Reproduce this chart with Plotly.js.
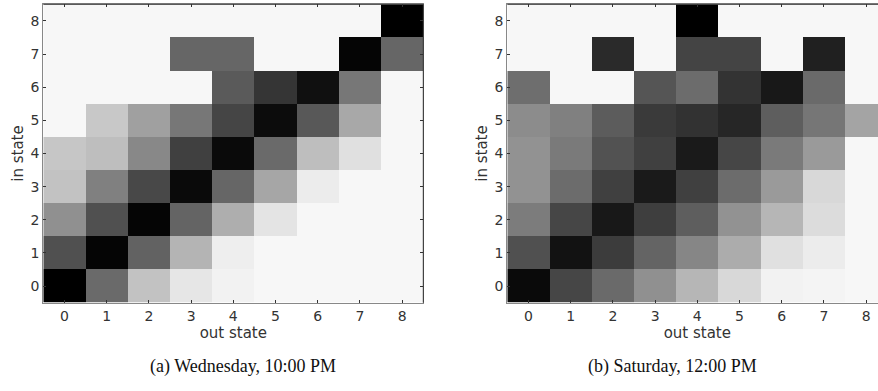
<!DOCTYPE html>
<html>
<head>
<meta charset="utf-8">
<script src="https://cdn.plot.ly/plotly-3.0.1.min.js"></script>
<style>
html,body{margin:0;padding:0;overflow:hidden;background:#fff;}
#chart{width:890px;height:391px;}
</style>
</head>
<body>
<div id="chart"></div>
<script>
// states (tick labels)
const states = [0,1,2,3,4,5,6,7,8];
// transition weights (darkness), rows = in state 0..8, cols = out state 0..8
const wednesday = [
  [247,141,53,17,5,0,0,0,0],
  [167,242,149,67,9,0,0,0,0],
  [103,167,242,147,73,19,0,0,0],
  [53,119,175,237,145,81,11,0,0],
  [49,57,111,183,237,141,57,23,0],
  [0,47,87,128,178,235,159,79,0],
  [0,0,0,0,157,194,231,128,0],
  [0,0,0,145,145,0,0,242,145],
  [0,0,0,0,0,0,0,0,247]
];
const saturday = [
  [237,177,141,103,65,31,5,3,0],
  [167,229,187,147,113,75,23,11,0],
  [123,177,223,185,153,101,65,27,0],
  [101,139,183,221,183,139,93,31,0],
  [101,125,165,183,221,177,125,93,0],
  [107,119,155,189,197,209,153,129,83],
  [137,0,0,162,139,196,223,141,0],
  [0,0,205,0,179,179,0,215,0],
  [0,0,0,0,247,0,0,0,0]
];
const captions = ["(a) Wednesday, 10:00 PM", "(b) Saturday, 12:00 PM"];
const xTitle = "out state";
const yTitle = "in state";

const W = 890, H = 391;
const cs = [[0,'rgb(247,247,247)'],[1,'rgb(0,0,0)']];
function hm(z, xa, ya){
  return {type:'heatmap', z:z, x:states, y:states, xaxis:xa, yaxis:ya,
    colorscale:cs, zmin:0, zmax:247, showscale:false, xgap:0, ygap:0};
}
const tickFont = {family:'DejaVu Sans', size:14, color:'#333'};
const titleFont = {family:'DejaVu Sans', size:15, color:'#333'};
function xax(domain, anchor){
  return {domain:domain, anchor:anchor, range:[-0.5,8.5], tickvals:states, ticktext:states.map(String),
    ticks:'inside', ticklen:3, tickcolor:'#333', showline:true, linecolor:'#888', linewidth:1, mirror:'ticks',
    showgrid:false, zeroline:false, tickfont:tickFont, fixedrange:true,
    title:{text:xTitle, font:titleFont, standoff:3}};
}
function yax(domain, anchor){
  return {domain:domain, anchor:anchor, range:[-0.5,8.5], tickvals:states, ticktext:states.map(String),
    ticks:'inside', ticklen:3, tickcolor:'#333', showline:true, linecolor:'#888', linewidth:1, mirror:'ticks',
    showgrid:false, zeroline:false, tickfont:tickFont, fixedrange:true,
    title:{text:yTitle, font:titleFont, standoff:3}};
}
const yd = [(H-302.7)/H, (H-4.3)/H];
const xd1 = [43.3/W, 423.3/W];
const xd2 = [507.3/W, 887.3/W];

const layout = {
  width:W, height:H, margin:{l:0,r:0,t:0,b:0},
  paper_bgcolor:'#fff', plot_bgcolor:'#fff', showlegend:false,
  xaxis: xax(xd1,'y'), yaxis: yax(yd,'x'),
  xaxis2: xax(xd2,'y2'), yaxis2: yax(yd,'x2'),
  shapes:[
    {type:'line', xref:'x domain', yref:'y domain', x0:0, x1:1, y0:1, y1:1, line:{color:'#333', width:1}},
    {type:'line', xref:'x domain', yref:'y domain', x0:1, x1:1, y0:0, y1:1, line:{color:'#333', width:1}},
    {type:'line', xref:'x2 domain', yref:'y2 domain', x0:0, x1:1, y0:1, y1:1, line:{color:'#333', width:1}}
  ],
  annotations:[
    {text:captions[0], xref:'paper', yref:'paper', x:243/W, y:(H-366)/H, showarrow:false,
     xanchor:'center', yanchor:'middle', font:{family:'Liberation Serif', size:18, color:'#111'}},
    {text:captions[1], xref:'paper', yref:'paper', x:672/W, y:(H-366)/H, showarrow:false,
     xanchor:'center', yanchor:'middle', font:{family:'Liberation Serif', size:18, color:'#111'}}
  ]
};
Plotly.newPlot('chart', [hm(wednesday,'x','y'), hm(saturday,'x2','y2')], layout, {displayModeBar:false, staticPlot:true});
</script>
</body>
</html>
